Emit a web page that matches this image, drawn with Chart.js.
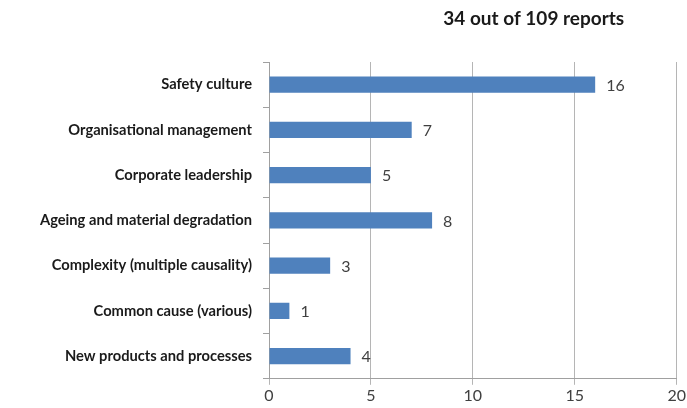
<!DOCTYPE html>
<html>
<head>
<meta charset="utf-8">
<script src="https://cdn.jsdelivr.net/npm/chart.js@4"></script>
<style>
  html, body { margin: 0; padding: 0; background: #fff; }
  #wrap { width: 687px; height: 408px; }
</style>
</head>
<body>
<div id="wrap"><canvas id="chart__1"></canvas></div>
<script>
"use strict";

const categories = [
  "Safety culture",
  "Organisational management",
  "Corporate leadership",
  "Ageing and material degradation",
  "Complexity (multiple causality)",
  "Common cause (various)",
  "New products and processes",
];
const reportCounts = [16, 7, 5, 8, 3, 1, 4];
const titleText = "34 out of 109 reports";
const xMin = 0;
const xMax = 20;
const xStep = 5;

const fontFamily = "Lato, 'Open Sans', sans-serif";

// value labels to the right of each bar
const barLabels = {
  id: "barLabels",
  afterDatasetsDraw(chart) {
    const ctx = chart.ctx;
    const meta = chart.getDatasetMeta(0);
    ctx.save();
    ctx.font = "16px " + fontFamily;
    ctx.fillStyle = "#404040";
    ctx.textAlign = "left";
    ctx.textBaseline = "middle";
    meta.data.forEach((bar, i) => {
      ctx.fillText(String(reportCounts[i]), bar.x + 11, bar.y + 1);
    });
    ctx.restore();
  },
};

// title sits over the right part of the plot
const sideTitle = {
  id: "sideTitle",
  afterDraw(chart) {
    const ctx = chart.ctx;
    ctx.save();
    ctx.font = "bold 19px " + fontFamily;
    ctx.fillStyle = "#1a1a1a";
    ctx.textAlign = "center";
    ctx.textBaseline = "middle";
    ctx.fillText(titleText, chart.chartArea.right - 143, 19);
    ctx.restore();
  },
};

const chartSelector__1 = document.getElementById("chart__1").getContext("2d");

const chartConfig = {
  type: "bar",
  data: {
    labels: categories,
    datasets: [
      {
        label: "Reports",
        data: reportCounts,
        backgroundColor: "rgba(79, 129, 189, 1)",
        borderWidth: 0,
        barPercentage: 0.36,
        categoryPercentage: 1,
      },
    ],
  },
  options: {
    indexAxis: "y",
    responsive: true,
    maintainAspectRatio: false,
    animation: false,
    layout: {
      padding: { top: 62, right: 9, bottom: 2, left: 0 },
    },
    plugins: {
      legend: { display: false },
      title: { display: false },
      tooltip: { enabled: false },
    },
    scales: {
      x: {
        min: xMin,
        max: xMax,
        ticks: {
          stepSize: xStep,
          color: "#404040",
          font: { family: fontFamily, size: 16 },
          padding: 1,
        },
        grid: {
          color: "#b5b5b5",
          lineWidth: 1,
          tickLength: 6,
        },
        border: { color: "#a0a0a0" },
      },
      y: {
        offset: true,
        afterFit(scale) {
          scale.width = 269;
        },
        ticks: {
          color: "#1a1a1a",
          font: { family: fontFamily, size: 14.7, weight: "bold" },
          padding: 11,
        },
        grid: {
          offset: true,
          drawOnChartArea: false,
          color: "#a0a0a0",
          tickLength: 6,
        },
        border: { color: "#a0a0a0" },
      },
    },
  },
  plugins: [barLabels, sideTitle],
};

const chart__1 = new Chart(chartSelector__1, chartConfig);
</script>
</body>
</html>
